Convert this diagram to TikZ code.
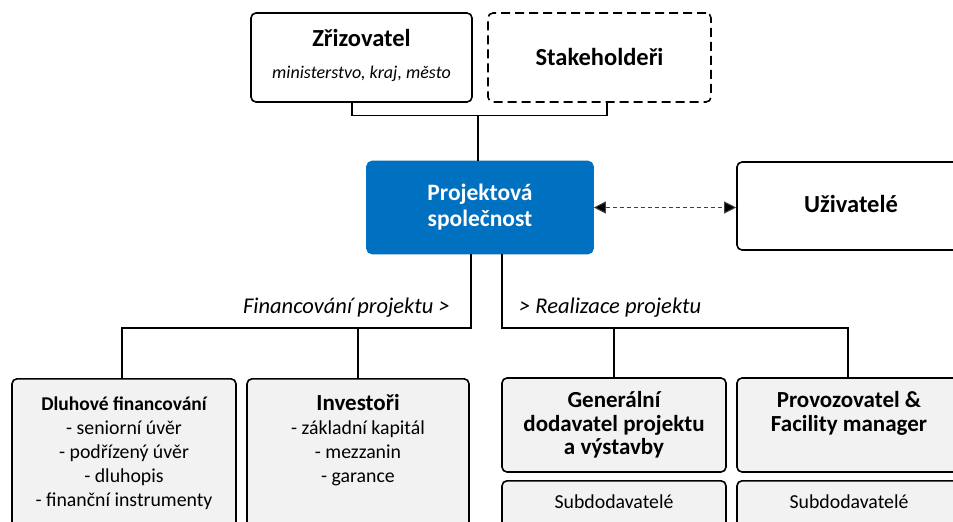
\documentclass[tikz,border=0pt]{standalone}
\usepackage{fontspec}
\setmainfont{Carlito}
\usetikzlibrary{arrows.meta,calc}
\definecolor{projblue}{HTML}{0070C0}
\definecolor{boxgray}{HTML}{F2F2F2}
\definecolor{arrowgray}{HTML}{404040}
\tikzset{
  box/.style={draw=black, line width=1.6pt, rounded corners=5pt, inner sep=0pt},
  topbox/.style={box, fill=white, minimum height=89pt},
  graybox/.style={box, fill=boxgray},
  conn/.style={draw=black, line width=1.2pt},
  t/.style={inner sep=0pt, anchor=base},
  ttl/.style={t, font=\fontsize{24.5}{26}\selectfont\bfseries},
  ttlb/.style={t, font=\fontsize{23}{25}\selectfont\bfseries},
  sml/.style={t, font=\fontsize{19.8}{22}\selectfont},
  lbl/.style={t, font=\fontsize{22.5}{24}\selectfont\itshape},
}
\begin{document}
\begin{tikzpicture}[x=1pt,y=-1pt]
\useasboundingbox (0,0) rectangle (953,522);
\clip (0,0) rectangle (953,522);
% boxes
\node[topbox, minimum width=221pt] (zriz) at (361.5,57.5) {};
\node[topbox, minimum width=223pt, dash pattern=on 9pt off 5pt] (stake) at (599.5,57.5) {};
\node[box, draw=projblue, fill=projblue, minimum width=226pt, minimum height=92pt] (proj) at (480,207.5) {};
\node[topbox, minimum width=228pt, minimum height=88pt] (uziv) at (851,206) {};
\node[graybox, minimum width=224pt, minimum height=170pt, anchor=north] (dluh) at (124,378) {};
\node[graybox, minimum width=222pt, minimum height=170pt, anchor=north] (inv) at (358,378) {};
\node[graybox, minimum width=224pt, minimum height=94pt] (gen) at (614,425) {};
\node[graybox, minimum width=224pt, minimum height=94pt] (prov) at (849,425) {};
\node[graybox, minimum width=224pt, minimum height=70pt, anchor=north] (sub1) at (614,480) {};
\node[graybox, minimum width=224pt, minimum height=70pt, anchor=north] (sub2) at (849,480) {};
% texts
\node[ttl] (zrizt) at (361.5,46) {Zřizovatel};
\node[t, font=\fontsize{18}{20}\selectfont\itshape] (zrizs) at (361.5,78) {ministerstvo, kraj, město};
\node[ttl] (staket) at (599.5,65) {Stakeholdeři};
\node[t, font=\fontsize{23.5}{25}\selectfont\bfseries, text=white] (projt1) at (480,200) {Projektová};
\node[t, font=\fontsize{23.5}{25}\selectfont\bfseries, text=white] (projt2) at (480,226) {společnost};
\node[ttl] (uzivt) at (851,212) {Uživatelé};
\node[t, font=\fontsize{19.5}{22}\selectfont\bfseries] (dluht) at (124,410) {Dluhové financování};
\node[sml] (dluh1) at (124,434) {- seniorní úvěr};
\node[sml] (dluh2) at (124,458) {- podřízený úvěr};
\node[sml] (dluh3) at (124,482) {- dluhopis};
\node[sml] (dluh4) at (124,506) {- finanční instrumenty};
\node[ttlb] (invt) at (358,410) {Investoři};
\node[sml] (inv1) at (358,434) {- základní kapitál};
\node[sml] (inv2) at (358,458) {- mezzanin};
\node[sml] (inv3) at (358,482) {- garance};
\node[ttlb] (gent1) at (614,407) {Generální};
\node[ttlb] (gent2) at (614,431) {dodavatel projektu};
\node[ttlb] (gent3) at (614,454) {a výstavby};
\node[ttlb] (provt1) at (849,407) {Provozovatel \&};
\node[ttlb] (provt2) at (849,431) {Facility manager};
\node[sml] (sub1t) at (614,508) {Subdodavatelé};
\node[sml] (sub2t) at (849,508) {Subdodavatelé};
% top bracket
\coordinate (bl) at ([xshift=-9.5pt,yshift=-13pt]zriz.south);
\coordinate (br) at ([xshift=7.5pt,yshift=-13pt]stake.south);
\draw[conn] ([xshift=-9.5pt]zriz.south) -- (bl) -- (br) -- ([xshift=7.5pt]stake.south);
\draw[conn] ([xshift=-2pt]proj.north) -- ([xshift=-2pt]proj.north |- bl);
% dashed arrow
\draw[draw=arrowgray, line width=1pt, dash pattern=on 4pt off 3pt, {Triangle[length=12pt,width=12pt,fill=black]}-{Triangle[length=12pt,width=12pt,fill=black]}]
  (proj.east) -- (proj.east -| uziv.west);
% financing
\coordinate (fL) at (122,328);
\coordinate (fR) at ([xshift=-9pt]proj.south |- fL);
\draw[conn] ([xshift=-9pt]proj.south) -- (fR) -- (fL) -- (fL |- dluh.north);
\draw[conn] (fL -| inv.north) -- (inv.north);
\node[lbl, anchor=base east] (flab) at (450,313) {Financování projektu >};
% realisation
\coordinate (rL) at ([xshift=22pt]proj.south |- fL);
\coordinate (rR) at (848,328);
\draw[conn] ([xshift=22pt]proj.south) -- (rL) -- (rR) -- (rR |- prov.north);
\draw[conn] (rL -| gen.north) -- (gen.north);
\node[lbl, anchor=base west] (rlab) at (519,313) {> Realizace projektu};
\end{tikzpicture}
\end{document}
